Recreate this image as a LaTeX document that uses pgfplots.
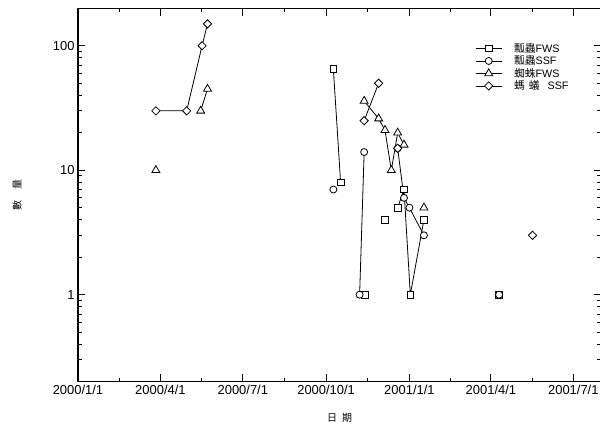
\documentclass[border=0pt]{standalone}
\usepackage{fontspec}
\setmainfont{Liberation Sans}
\newfontfamily\cjk{Noto Sans CJK TC}
\usepackage{pgfplots}
\pgfplotsset{compat=1.18}
\begin{document}
\begin{tikzpicture}
\begin{axis}[
  scale only axis, width=523.4bp, height=373.4bp,
  xmin=0, xmax=578,
  ymode=log, ymin=0.2, ymax=200,
  xtick={0,91,182,274,366,456,547},
  xticklabels={2000/1/1,2000/4/1,2000/7/1,2000/10/1,2001/1/1,2001/4/1,2001/7/1},
  minor xtick={45.5,136.5,228,320,411,501.5},
  ytick={1,10,100}, yticklabels={1,10,100},
  minor ytick={0.3,0.4,0.5,0.6,0.7,0.8,0.9,2,3,4,5,6,7,8,9,20,30,40,50,60,70,80,90},
  major tick length=7.5bp, minor tick length=4bp,
  every tick/.style={black, line width=0.9bp},
  axis line style={line width=1.1bp},
  tick label style={font=\fontsize{13}{15}\selectfont},
  xlabel={\cjk 日\hspace{5bp}期}, ylabel={\cjk 數\hspace{11bp}量},
  label style={font=\fontsize{12}{14}\selectfont},
  every axis x label/.style={at={(axis description cs:0.5,-0.0972)}, anchor=center},
  every axis y label/.style={at={(axis description cs:-0.1166,0.5)}, anchor=center, rotate=90},
  unbounded coords=jump,
  every axis plot/.append style={black, line width=0.8bp, mark options={solid, fill=white, line width=0.8bp}},
  legend style={at={(axis description cs:0.753,0.918)}, anchor=north west, draw=none, fill=none,
    font=\fontsize{10.8}{12}\selectfont, row sep=-2bp,
    /tikz/every even column/.append style={column sep=0bp},
    /tikz/every odd column/.append style={column sep=10bp}},
  legend cell align=left,
  legend image code/.code={\draw[mark repeat=2, mark phase=2, #1] plot coordinates {(0bp,0bp) (13bp,0bp) (26bp,0bp)};},
]
\addplot[mark=square*, mark size=3.3bp] table {
282 65
290 8
300 nan
317 1
330 nan
339 4
345 nan
353 5
360 7
367 1
382 4
400 nan
465 1
};
\addlegendentry{{\cjk 瓢蟲}FWS}
\addplot[mark=*, mark size=3.5bp] table {
282 7
300 nan
311 1
316 14
330 nan
353 15
360 6
366 5
382 3
400 nan
465 1
};
\addlegendentry{{\cjk 瓢蟲}SSF}
\addplot[mark=triangle*, mark size=4.6bp] table {
86 10
100 nan
135.5 30
143 45
200 nan
316 36
332 26
339 21
346 10
353 20
360 16
370 nan
382 5
};
\addlegendentry{{\cjk 蜘蛛}FWS}
\addplot[mark=square*, mark size=2.9bp, mark options={solid, fill=white, line width=0.8bp, rotate=45}] table {
86 30
120 30
137 100
143 150
200 nan
316 25
332 50
340 nan
353 15
400 nan
502 3
};
\addlegendentry{{\cjk 螞\hspace{4bp}蟻}\hspace{8bp}SSF}
\end{axis}
\pgfresetboundingbox
\path (-78bp,-48.3bp) rectangle (522bp,381.7bp);
\end{tikzpicture}
\end{document}
